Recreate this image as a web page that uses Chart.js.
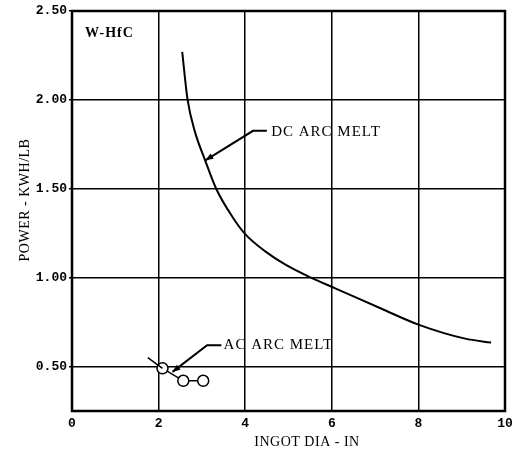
<!DOCTYPE html>
<html><head><meta charset="utf-8">
<script src="https://cdn.jsdelivr.net/npm/chart.js@4/dist/chart.umd.min.js"></script>
<style>html,body{margin:0;padding:0;background:#fff}#wrap{width:512px;height:456px}</style>
</head><body><div id="wrap"><canvas id="c" width="512" height="456"></canvas></div>
<script>
// DC arc melt curve (ingot dia in, power kWh/lb)
const dcX = [2.545, 2.67, 2.84, 3.07, 3.33, 3.71, 4.0, 4.48, 4.93, 5.52, 6.08, 7.15, 8.0, 9.08, 9.68];
const dcY = [2.27, 2.00, 1.82, 1.663, 1.50, 1.34, 1.245, 1.145, 1.073, 1.00, 0.94, 0.825, 0.736, 0.657, 0.635];
// AC arc melt points
const acX = [2.09, 2.57, 3.03];
const acY = [0.49, 0.42, 0.42];
// lead-in segment of AC line (no marker)
const acLeadX = [1.75, 2.09];
const acLeadY = [0.55, 0.49];
const xTicks = [0, 2, 4, 6, 8, 10];
const yTicks = [0.50, 1.00, 1.50, 2.00, 2.50];

const pts = (xs, ys) => xs.map((x, i) => ({x, y: ys[i]}));
const TICK_FONT = {family: 'Liberation Mono', size: 13, weight: 'bold'};

const annot = {
  id: 'annot',
  afterDraw(chart) {
    const {ctx, chartArea: a, scales: {x, y}} = chart;
    ctx.save();
    // frame
    ctx.strokeStyle = '#000'; ctx.lineWidth = 2.5;
    ctx.strokeRect(a.left, a.top, a.right - a.left, a.bottom - a.top);
    ctx.fillStyle = '#000';
    ctx.font = 'bold 14px "Liberation Serif"';
    ctx.letterSpacing = '1px';
    ctx.textBaseline = 'middle';
    ctx.fillText('W-HfC', x.getPixelForValue(0.3), y.getPixelForValue(2.375));
    // leaders
    function leader(x1, y1, x2, y2, x3, y3) {
      const p1 = [x.getPixelForValue(x1), y.getPixelForValue(y1)];
      const p2 = [x.getPixelForValue(x2), y.getPixelForValue(y2)];
      const p3 = [x.getPixelForValue(x3), y.getPixelForValue(y3)];
      ctx.lineWidth = 2;
      ctx.beginPath(); ctx.moveTo(p1[0], p1[1]); ctx.lineTo(p2[0], p2[1]); ctx.lineTo(p3[0], p3[1]); ctx.stroke();
      const ang = Math.atan2(p3[1] - p2[1], p3[0] - p2[0]);
      const L = 8, W = 3;
      ctx.beginPath();
      ctx.moveTo(p3[0], p3[1]);
      ctx.lineTo(p3[0] - L * Math.cos(ang) + W * Math.sin(ang), p3[1] - L * Math.sin(ang) - W * Math.cos(ang));
      ctx.lineTo(p3[0] - L * Math.cos(ang) - W * Math.sin(ang), p3[1] - L * Math.sin(ang) + W * Math.cos(ang));
      ctx.closePath(); ctx.fill();
    }
    leader(4.5, 1.826, 4.18, 1.826, 3.08, 1.66);
    leader(3.45, 0.62, 3.12, 0.62, 2.32, 0.47);
    ctx.font = '15px "Liberation Serif"';
    ctx.letterSpacing = '1px';
    ctx.fillText('DC ARC MELT', x.getPixelForValue(4.6), y.getPixelForValue(1.82));
    ctx.fillText('AC ARC MELT', x.getPixelForValue(3.5), y.getPixelForValue(0.62));
    // axis titles
    ctx.font = '14px "Liberation Serif"';
    ctx.letterSpacing = '0.5px';
    ctx.textAlign = 'center';
    ctx.fillText('INGOT DIA - IN', 307, 442);
    ctx.translate(25, 200); ctx.rotate(-Math.PI / 2);
    ctx.fillText('POWER - KWH/LB', 0, 0);
    ctx.restore();
  }
};

new Chart(document.getElementById('c'), {
  type: 'scatter',
  data: {datasets: [
    {data: pts(dcX, dcY), showLine: true, borderColor: '#000', borderWidth: 2, pointRadius: 0, cubicInterpolationMode: 'monotone'},
    {data: pts(acLeadX, acLeadY), showLine: true, borderColor: '#000', borderWidth: 1.5, pointRadius: 0},
    {data: pts(acX, acY), showLine: true, borderColor: '#000', borderWidth: 1.5, pointRadius: 5.5, pointBackgroundColor: '#fff', pointBorderColor: '#000', pointBorderWidth: 1.5}
  ]},
  options: {
    responsive: false, animation: false, devicePixelRatio: 1,
    layout: {padding: {top: 11, right: 5, left: 0, bottom: 0}},
    plugins: {legend: {display: false}, tooltip: {enabled: false}},
    scales: {
      x: {type: 'linear', min: 0, max: 10,
        afterBuildTicks: s => { s.ticks = xTicks.map(v => ({value: v})); },
        afterFit: s => { s.height = 45; s.paddingRight = 0; s.paddingLeft = 0; },
        ticks: {color: '#000', font: TICK_FONT, padding: 5, callback: v => String(v)},
        grid: {color: '#000', lineWidth: 1.5, tickLength: 0, drawTicks: false},
        border: {display: false}},
      y: {type: 'linear', min: 0.25, max: 2.5,
        afterBuildTicks: s => { s.ticks = yTicks.map(v => ({value: v})); },
        afterFit: s => { s.width = 72; s.paddingTop = 0; s.paddingBottom = 0; },
        ticks: {color: '#000', font: TICK_FONT, padding: 2, callback: v => v.toFixed(2)},
        grid: {color: '#000', lineWidth: 1.5, tickLength: 3},
        border: {display: false}}
    }
  },
  plugins: [annot]
});
</script></body></html>
